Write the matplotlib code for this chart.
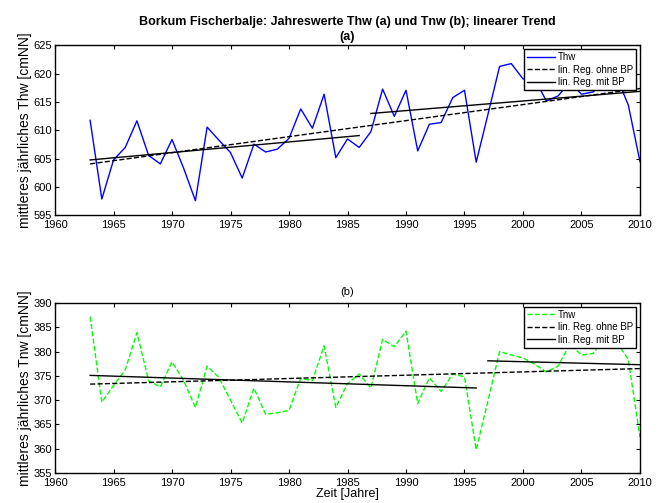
import matplotlib
matplotlib.use("Agg")
import matplotlib.pyplot as plt
import numpy as np

plt.rcParams['font.family'] = ['Liberation Sans', 'DejaVu Sans']

# Jahreswerte
years = list(range(1963, 2011))

thw = [611.8, 597.9, 604.8, 607.0, 611.7, 605.6, 604.1, 608.4, 603.3, 597.6,
       610.6, 608.3, 606.1, 601.6, 607.6, 606.2, 606.7, 608.6, 613.8, 610.4,
       616.4, 605.2, 608.5, 607.0, 609.8, 617.3, 612.5, 617.1, 606.4, 611.1,
       611.4, 615.8, 617.1, 604.4, 612.8, 621.3, 621.8, 619.1, 619.1, 615.2,
       616.1, 618.5, 616.4, 616.8, 619.0, 619.5, 614.5, 604.5]

tnw = [387.2, 369.6, 373.0, 376.2, 383.9, 374.0, 372.7, 377.9, 374.0, 368.5,
       377.0, 374.7, 370.0, 365.3, 372.5, 367.1, 367.4, 367.9, 374.5, 374.0,
       381.2, 368.5, 373.4, 375.4, 372.5, 382.5, 381.0, 384.2, 369.3, 374.6,
       371.8, 375.4, 374.8, 359.8, 369.8, 380.0, 379.3, 378.7, 377.4, 375.8,
       377.0, 381.5, 379.3, 379.6, 383.0, 382.0, 378.4, 362.4]

# Regressionsgeraden (Endpunkte)
thw_ohne_x = [1963, 2010]
thw_ohne_y = [604.1, 617.4]
thw_mit1_x = [1963, 1986]
thw_mit1_y = [604.8, 609.1]
thw_mit2_x = [1987, 2010]
thw_mit2_y = [613.0, 616.9]

tnw_ohne_x = [1963, 2010]
tnw_ohne_y = [373.3, 376.5]
tnw_mit1_x = [1963, 1996]
tnw_mit1_y = [375.1, 372.5]
tnw_mit2_x = [1997, 2010]
tnw_mit2_y = [378.1, 377.3]

xticks = list(range(1960, 2011, 5))


def style_axes(ax):
    ax.set_xlim(1960, 2010)
    ax.set_xticks(xticks)
    ax.tick_params(direction='in', top=True, right=True, labelsize=8,
                   length=3, width=0.8, pad=2)
    ax.tick_params(axis='x', pad=3.5)
    for s in ax.spines.values():
        s.set_linewidth(1.0)


def add_legend(ax):
    leg = ax.legend(loc='upper right', fontsize=7, fancybox=False, framealpha=1,
                    edgecolor='black', borderpad=0.3, labelspacing=0.25,
                    handlelength=2.9, handletextpad=0.3, borderaxespad=0.4)
    leg.get_frame().set_linewidth(1.0)


fig = plt.figure(figsize=(6.67, 5.03), dpi=100)
ax1 = fig.add_axes([0.0825, 0.5716, 0.877, 0.338])
ax2 = fig.add_axes([0.0825, 0.0596, 0.877, 0.338])

# (a) Thw
ax1.plot(years, thw, color='#0000ff', linewidth=1.0, label='Thw')
ax1.plot(thw_ohne_x, thw_ohne_y, color='black', linestyle='--', linewidth=1.0,
         label='lin. Reg. ohne BP')
ax1.plot(thw_mit1_x, thw_mit1_y, color='black', linewidth=1.0,
         label='lin. Reg. mit BP')
ax1.plot(thw_mit2_x, thw_mit2_y, color='black', linewidth=1.0)
ax1.set_ylim(595, 625)
ax1.set_yticks(range(595, 626, 5))
style_axes(ax1)
ax1.set_ylabel('mittleres jährliches Thw [cmNN]', fontsize=10, labelpad=1)
ax1.set_title('Borkum Fischerbalje: Jahreswerte Thw (a) und Tnw (b); linearer Trend\n(a)',
              fontsize=9, fontweight='bold', pad=4, linespacing=1.3)
add_legend(ax1)

# (b) Tnw
ax2.plot(years, tnw, color='#00ff00', linestyle='--', linewidth=1.0, label='Tnw')
ax2.plot(tnw_ohne_x, tnw_ohne_y, color='black', linestyle='--', linewidth=1.0,
         label='lin. Reg. ohne BP')
ax2.plot(tnw_mit1_x, tnw_mit1_y, color='black', linewidth=1.0,
         label='lin. Reg. mit BP')
ax2.plot(tnw_mit2_x, tnw_mit2_y, color='black', linewidth=1.0)
ax2.set_ylim(355, 390)
ax2.set_yticks(range(355, 391, 5))
style_axes(ax2)
ax2.set_ylabel('mittleres jährliches Tnw [cmNN]', fontsize=10, labelpad=1)
ax2.set_xlabel('Zeit [Jahre]', fontsize=9, labelpad=0)
ax2.set_title('(b)', fontsize=8, pad=6)
add_legend(ax2)

fig.savefig('out.png', dpi=100)
